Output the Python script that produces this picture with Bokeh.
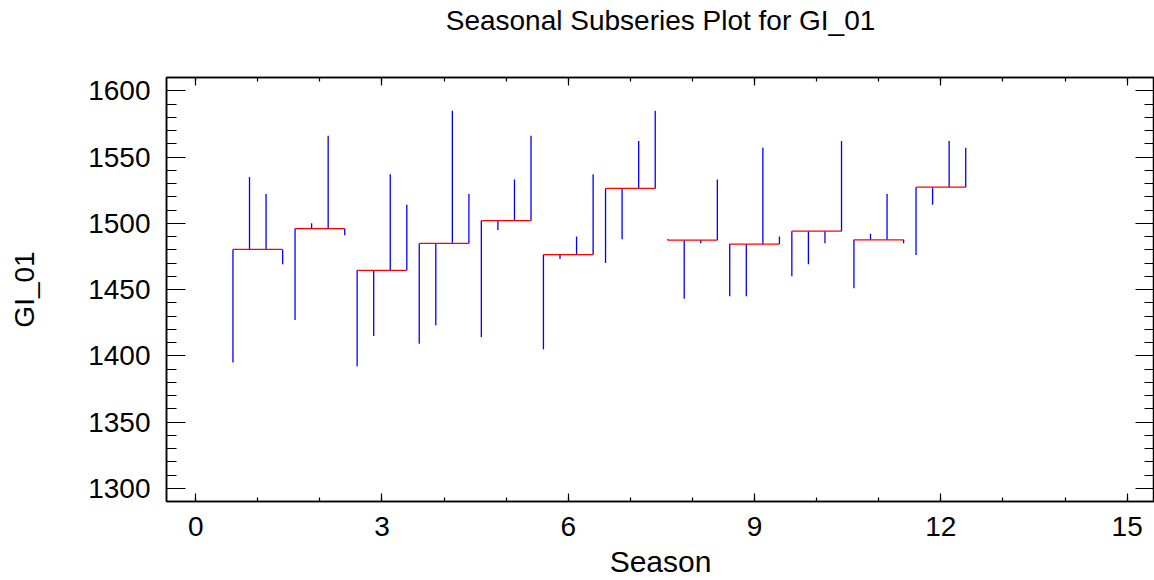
from bokeh.plotting import figure
from bokeh.models import LinearAxis, FixedTicker, CustomJSTickFormatter, Range1d
from bokeh.embed import file_html
from bokeh.resources import INLINE

# ---- data ----
seasons = [1, 2, 3, 4, 5, 6, 7, 8, 9, 10, 11, 12]
year1 = [1395, 1427, 1392, 1409, 1414, 1405, 1470, 1488, 1445, 1460, 1451, 1476]
year2 = [1535, 1500, 1415, 1423, 1495, 1473, 1488, 1443, 1445, 1469, 1492, 1514]
year3 = [1522, 1566, 1537, 1585, 1533, 1490, 1562, 1485, 1557, 1485, 1522, 1562]
year4 = [1469, 1491, 1514, 1522, 1566, 1537, 1585, 1533, 1490, 1562, 1485, 1557]
x_ticks = [0, 3, 6, 9, 12, 15]
y_ticks = [1300, 1350, 1400, 1450, 1500, 1550, 1600]

years = [year1, year2, year3, year4]
offsets = [-0.4, -0.1333, 0.1333, 0.4]

FONT = "Liberation Sans"

p = figure(width=1154, height=580, output_backend="svg", toolbar_location=None,
           x_range=Range1d(-0.47, 15.44), y_range=Range1d(1290, 1610),
           min_border_left=166, min_border_right=0, min_border_top=75, min_border_bottom=79,
           background_fill_color="white", border_fill_color="white")

p.title.text = "Seasonal Subseries Plot for GI_01"
p.title.align = "center"
p.title.text_font = FONT
p.title.text_font_size = "28px"
p.title.text_font_style = "normal"
p.title.text_color = "black"
p.title.standoff = 4

p.grid.visible = False
p.outline_line_color = "black"
p.outline_line_width = 1.5

# mean per season
means = [sum(y[i] for y in years) / len(years) for i in range(len(seasons))]

# blue vertical lines from mean to each observation
vx, vy0, vy1 = [], [], []
for i, s in enumerate(seasons):
    for k, y in enumerate(years):
        vx.append(s + offsets[k])
        vy0.append(means[i])
        vy1.append(y[i])
p.segment(x0=vx, y0=vy0, x1=vx, y1=vy1, line_color="#0000FF", line_width=1.3)

# red mean lines
p.segment(x0=[s - 0.4 for s in seasons], y0=means,
          x1=[s + 0.4 for s in seasons], y1=means,
          line_color="#FF0000", line_width=1.3)

xt = FixedTicker(ticks=x_ticks, minor_ticks=list(range(0, 16)))
yt = FixedTicker(ticks=y_ticks, minor_ticks=list(range(1290, 1611, 10)))


def style(ax, ticker, tin, mtin, fs="28px"):
    ax.ticker = ticker
    ax.axis_line_color = "black"
    ax.axis_line_width = 1.5
    ax.major_tick_line_color = "black"
    ax.minor_tick_line_color = "black"
    ax.major_tick_line_width = 1.2
    ax.minor_tick_line_width = 1.2
    ax.major_tick_in = tin
    ax.major_tick_out = 0
    ax.minor_tick_in = mtin
    ax.minor_tick_out = 0
    ax.major_label_text_font = FONT
    ax.major_label_text_font_size = fs
    ax.major_label_text_color = "black"
    ax.axis_label_text_font = FONT
    ax.axis_label_text_font_style = "normal"
    ax.axis_label_text_color = "black"


style(p.xaxis[0], xt, 8, 4)
p.xaxis[0].axis_label = "Season"
p.xaxis[0].axis_label_text_font_size = "30px"
p.xaxis[0].major_label_standoff = 15
p.xaxis[0].axis_label_standoff = 6

style(p.yaxis[0], yt, 19, 10)
p.yaxis[0].axis_label = "GI_01"
p.yaxis[0].axis_label_text_font_size = "28px"
p.yaxis[0].major_label_standoff = 16
p.yaxis[0].axis_label_standoff = 45

blank = CustomJSTickFormatter(code="return '';")

top = LinearAxis()
style(top, FixedTicker(ticks=x_ticks, minor_ticks=list(range(0, 16))), 8, 4, fs="0px")
top.formatter = blank
top.major_label_standoff = 0
top.axis_label = " "
top.axis_label_text_font_size = "1px"
top.axis_label_standoff = 36
p.add_layout(top, "above")

right = LinearAxis()
style(right, FixedTicker(ticks=y_ticks, minor_ticks=list(range(1290, 1611, 10))), 19, 10, fs="0px")
right.formatter = blank
right.major_label_standoff = 0
p.add_layout(right, "right")

open("out.html", "w").write(file_html(p, INLINE))
